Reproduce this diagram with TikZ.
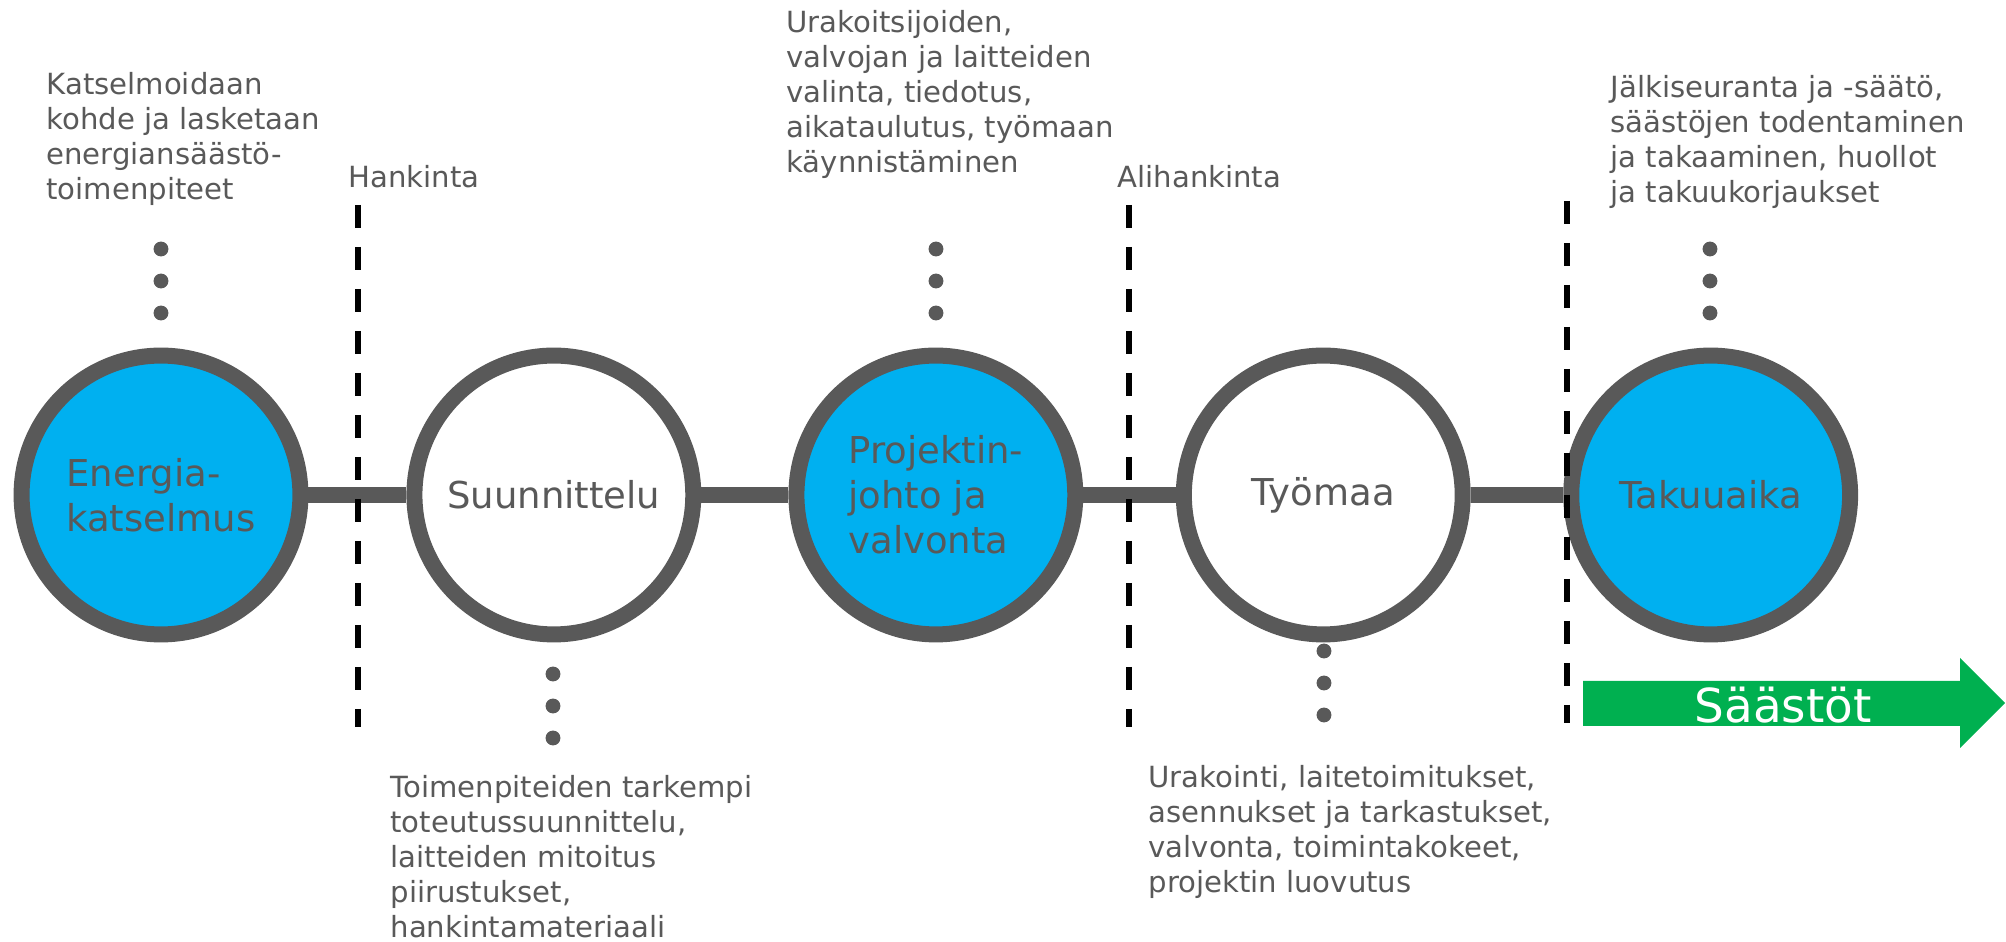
\documentclass[tikz,border=0pt]{standalone}
\usepackage{fontspec}
\setmainfont{DejaVu Sans}
\usetikzlibrary{positioning}
\definecolor{ringgray}{HTML}{595959}
\definecolor{phaseblue}{HTML}{00B0F0}
\definecolor{savegreen}{HTML}{00B050}
\tikzstyle{phase} = [draw=ringgray, line width=5.6pt, circle, minimum size=97.6pt,
inner sep=0pt, text=ringgray, align=left, font=\fontsize{12.95pt}{15.75pt}\selectfont]
\tikzstyle{active} = [phase, fill=phaseblue]
\tikzstyle{passive} = [phase, fill=white]
\tikzstyle{note} = [anchor=north west, inner sep=0pt, text=ringgray, align=left,
font=\fontsize{10.2pt}{12.25pt}\selectfont]
\tikzstyle{link} = [draw=ringgray, line width=5.6pt]
\tikzstyle{gate} = [draw=black, line width=2.1pt, dash pattern=on 8pt off 6.7pt]

\begin{document}
\begin{tikzpicture}[x=0.35pt, y=-0.35pt, node distance=135.6pt]
	\useasboundingbox (0,0) rectangle (2006,942);
	\node [active] (Energia) at (161,495) {Energia-\\katselmus};
	\node [passive, right of=Energia, xshift=1.9pt] (Suunnittelu) {Suunnittelu};
	\node [active, right of=Energia, xshift=135.6pt] (Projekti) {Projektin-\\johto ja\\valvonta};
	\node [passive, right of=Projekti] (Tyomaa) {Työmaa};
	\node [active, right of=Tyomaa] (Takuu) {Takuuaika};
	
	\draw [link] (Energia) -- (Suunnittelu);
	\draw [link] (Suunnittelu) -- (Projekti);
	\draw [link] (Projekti) -- (Tyomaa);
	\draw [link] (Tyomaa) -- (Takuu);
	
	\foreach \x/\y in {161/249, 936/249, 1710/249, 553/674, 1324/651}
		\foreach \d in {0,1,2}
			\fill [ringgray] (\x,{\y+32*\d}) circle [radius=2.6pt];
	
	\draw [gate] (358,205) -- (358,727);
	\draw [gate] (1129,205) -- (1129,727);
	\draw [gate] (1567,201) -- (1567,723);
	
	\node [note] (KatselmusText) at (46,72) {Katselmoidaan\\kohde ja lasketaan\\energiansäästö-\\toimenpiteet};
	\node [note] (Hankinta) at (348,165) {Hankinta};
	\node [note] (ProjektiText) at (786,10) {Urakoitsijoiden,\\valvojan ja laitteiden\\valinta, tiedotus,\\aikataulutus, työmaan\\käynnistäminen};
	\node [note] (Alihankinta) at (1117,165) {Alihankinta};
	\node [note] (TakuuText) at (1610,75) {Jälkiseuranta ja -säätö,\\säästöjen todentaminen\\ja takaaminen, huollot\\ja takuukorjaukset};
	\node [note] (SuunnitteluText) at (390,775) {Toimenpiteiden tarkempi\\toteutussuunnittelu,\\laitteiden mitoitus\\piirustukset,\\hankintamateriaali};
	\node [note] (TyomaaText) at (1148,765) {Urakointi, laitetoimitukset,\\asennukset ja tarkastukset,\\valvonta, toimintakokeet,\\projektin luovutus};
	
	\fill [savegreen] (1583,681) -- (1960,681) -- (1960,658) -- (2005,703)
		-- (1960,748) -- (1960,726) -- (1583,726) -- cycle;
	\node [anchor=base, text=white, font=\fontsize{16.4pt}{19pt}\selectfont] (Saastot) at (1783,723) {Säästöt};
	
\end{tikzpicture}
\end{document}
